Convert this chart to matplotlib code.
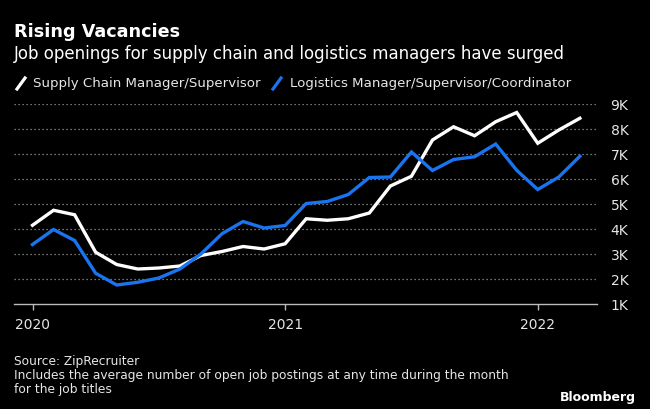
import matplotlib
matplotlib.use("Agg")
import matplotlib.pyplot as plt
from matplotlib.lines import Line2D
import numpy as np

# monthly values, Jan 2020 .. Mar 2022 (thousands of open postings)
months = np.arange(27)
supply_chain = [4.15, 4.75, 4.57, 3.07, 2.58, 2.40, 2.44, 2.52, 2.94, 3.10, 3.30, 3.20,
                3.41, 4.41, 4.35, 4.41, 4.64, 5.72, 6.11, 7.56, 8.09, 7.73, 8.29, 8.66,
                7.43, 7.96, 8.43]
logistics = [3.38, 3.98, 3.54, 2.23, 1.76, 1.87, 2.04, 2.40, 3.00, 3.81, 4.30, 4.04,
             4.14, 5.02, 5.10, 5.38, 6.06, 6.08, 7.08, 6.34, 6.78, 6.89, 7.40, 6.35,
             5.58, 6.08, 6.91]
year_ticks = [0, 12, 24]
year_labels = ["2020", "2021", "2022"]
y_ticks = [1, 2, 3, 4, 5, 6, 7, 8, 9]
y_labels = ["1K", "2K", "3K", "4K", "5K", "6K", "7K", "8K", "9K"]

BG = "black"
WHITE = "#ffffff"
BLUE = "#1a74f0"
GREY = "#9a9a9a"
TXT = "#e6e6e6"

plt.rcParams["font.family"] = ["DejaVu Sans"]

fig = plt.figure(figsize=(6.5, 4.09), dpi=100, facecolor=BG)
ax = fig.add_axes([0.0215, 0.2567, 0.8965, 0.489])
ax.set_facecolor(BG)

ax.plot(months, supply_chain, color=WHITE, lw=2.4, solid_joinstyle="miter")
ax.plot(months, logistics, color=BLUE, lw=2.4, solid_joinstyle="miter")

ax.set_xlim(-0.88, 26.8)
ax.set_ylim(1, 9)
ax.set_yticks(y_ticks)
ax.set_yticklabels(y_labels)
ax.yaxis.tick_right()
ax.set_xticks(year_ticks)
ax.set_xticklabels(year_labels)

for v in y_ticks[1:]:
    ax.axhline(v, color=GREY, lw=0.9, ls=(0, (1, 2.2)), zorder=0)

for s in ["top", "left", "right"]:
    ax.spines[s].set_visible(False)
ax.spines["bottom"].set_color("#bbbbbb")
ax.spines["bottom"].set_linewidth(1.0)

ax.tick_params(axis="y", length=0, pad=10, labelsize=10, labelcolor=TXT)
ax.tick_params(axis="x", length=4, width=1, color="#bbbbbb", pad=6,
               labelsize=10, labelcolor=TXT)

# titles
fig.text(0.0215, 1 - 32 / 409, "Rising Vacancies", color=WHITE, fontsize=12.7,
         fontweight="bold", va="center", ha="left")
fig.text(0.0215, 1 - 54 / 409, "Job openings for supply chain and logistics managers have surged",
         color=WHITE, fontsize=12, va="center", ha="left")

# legend
def legend_mark(x0, color):
    fig.add_artist(Line2D([x0, x0 + 8 / 650], [1 - 89 / 409, 1 - 78 / 409],
                          color=color, lw=2.3, transform=fig.transFigure))

legend_mark(17 / 650, WHITE)
fig.text(33 / 650, 1 - 84 / 409, "Supply Chain Manager/Supervisor", color=TXT,
         fontsize=9.6, va="center", ha="left")
legend_mark(273 / 650, BLUE)
fig.text(290 / 650, 1 - 84 / 409, "Logistics Manager/Supervisor/Coordinator", color=TXT,
         fontsize=9.6, va="center", ha="left")

# footer
fig.text(0.0215, 1 - 361 / 409, "Source: ZipRecruiter", color=TXT, fontsize=8.8,
         va="center", ha="left")
fig.text(0.0215, 1 - 375 / 409,
         "Includes the average number of open job postings at any time during the month",
         color=TXT, fontsize=8.8, va="center", ha="left")
fig.text(0.0215, 1 - 389 / 409, "for the job titles", color=TXT, fontsize=8.8,
         va="center", ha="left")
fig.text(636 / 650, 1 - 397 / 409, "Bloomberg", color=WHITE, fontsize=9,
         fontweight="bold", va="center", ha="right")

fig.savefig("out.png", dpi=100, facecolor=BG)
